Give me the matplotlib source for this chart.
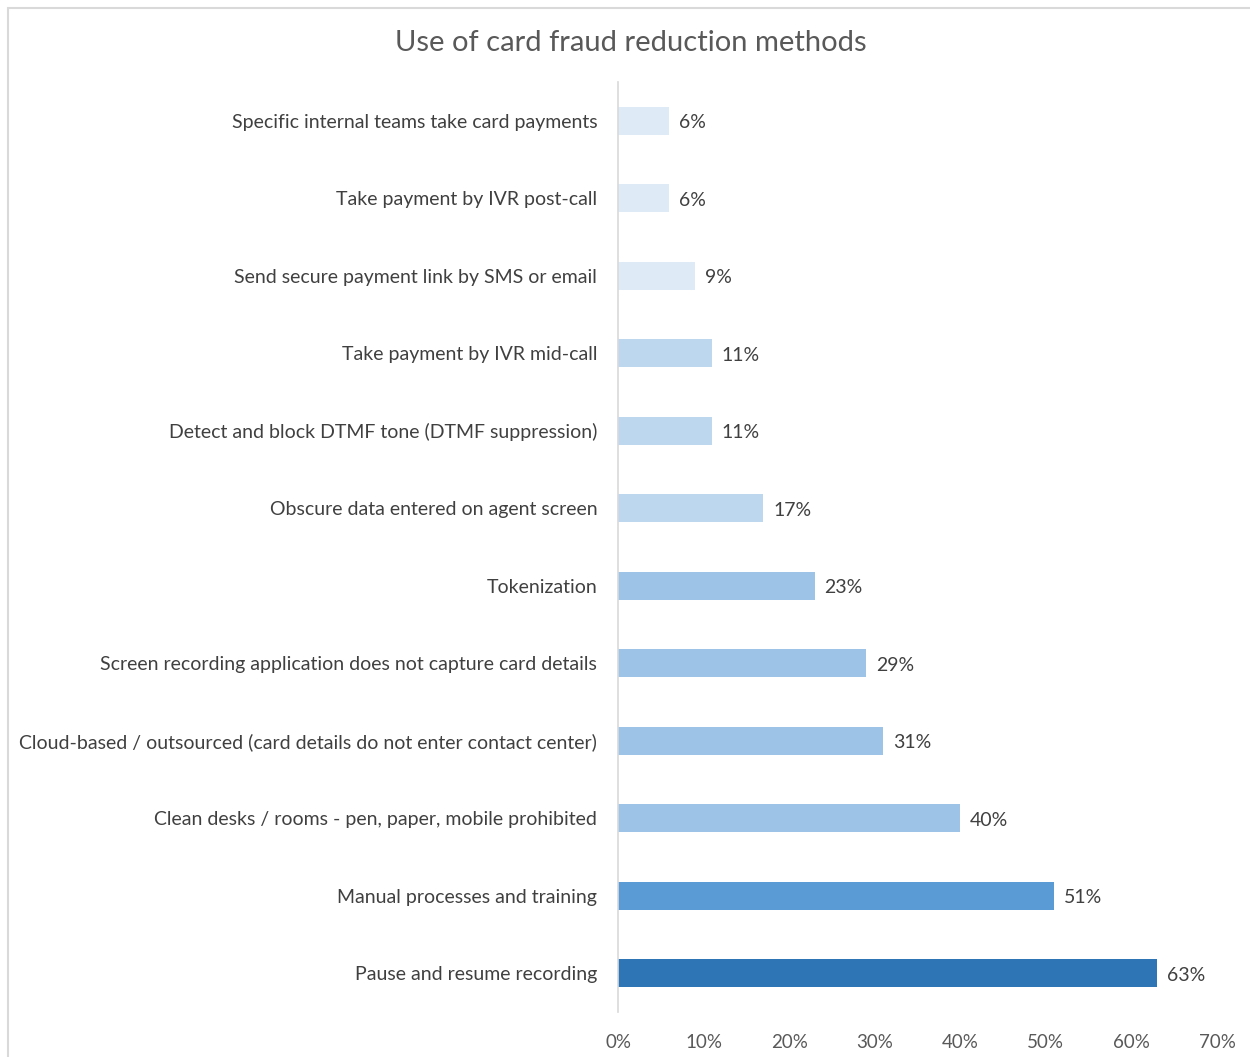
import matplotlib
matplotlib.use("Agg")
import matplotlib.pyplot as plt
from matplotlib.patches import Rectangle

categories = [
    "Specific internal teams take card payments",
    "Take payment by IVR post-call",
    "Send secure payment link by SMS or email",
    "Take payment by IVR mid-call",
    "Detect and block DTMF tone (DTMF suppression)",
    "Obscure data entered on agent screen",
    "Tokenization",
    "Screen recording application does not capture card details",
    "Cloud-based / outsourced (card details do not enter contact center)",
    "Clean desks / rooms - pen, paper, mobile prohibited",
    "Manual processes and training",
    "Pause and resume recording",
]
values = [6, 6, 9, 11, 11, 17, 23, 29, 31, 40, 51, 63]
colors = ["#DEEBF7", "#DEEBF7", "#DEEBF7",
          "#BDD7EE", "#BDD7EE", "#BDD7EE",
          "#9DC3E6", "#9DC3E6", "#9DC3E6", "#9DC3E6",
          "#5B9BD5", "#2E75B6"]
xticks = [0, 10, 20, 30, 40, 50, 60, 70]

plt.rcParams["font.family"] = ["Lato", "DejaVu Sans"]

fig = plt.figure(figsize=(12.5, 10.57), dpi=100)
ax = fig.add_axes([618 / 1250, 1 - 1012 / 1057, (1217 - 618) / 1250, (1012 - 82) / 1057])

pos = list(range(len(categories)))
ax.barh(pos, values, height=0.36, color=colors, zorder=2)
ax.set_ylim(len(categories) - 0.5, -0.5)
ax.set_xlim(0, 70)

for p, v in zip(pos, values):
    ax.annotate(f"{v}%", xy=(v, p), xytext=(7, -1.5), textcoords="offset points",
                ha="left", va="center", fontsize=14, color="#404040")

ax.set_yticks(pos)
ax.set_yticklabels(categories, fontsize=14, color="#404040")
ax.set_xticks(xticks)
ax.set_xticklabels([f"{t}%" for t in xticks], fontsize=13.5, color="#595959")
ax.tick_params(axis="both", length=0)
ax.tick_params(axis="y", pad=15)
ax.tick_params(axis="x", pad=16)

for side in ["top", "right", "bottom"]:
    ax.spines[side].set_visible(False)
ax.spines["left"].set_color("#D9D9D9")
ax.spines["left"].set_linewidth(1.2)

fig.text(631 / 1250, 1 - 43 / 1057, "Use of card fraud reduction methods",
         ha="center", va="center", fontsize=21, color="#595959")

fig.patches.append(Rectangle((8 / 1250, -0.1), 1.2, 1 - 8 / 1057 + 0.1,
                             transform=fig.transFigure, fill=False,
                             edgecolor="#D9D9D9", linewidth=1.5))

fig.savefig("out.png", dpi=100, facecolor="white")
